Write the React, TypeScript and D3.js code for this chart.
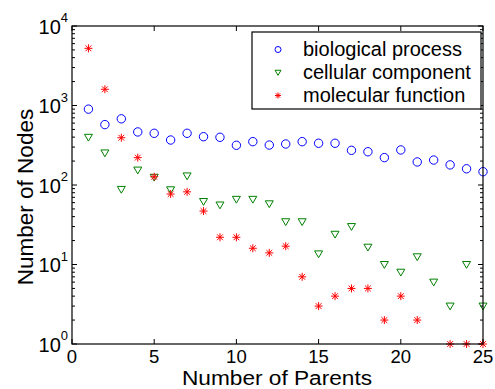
import React from "react";
import * as d3 from "d3";

const parents = d3.range(1, 26);
const biological = [900, 575, 680, 465, 447, 368, 447, 405, 398, 316, 351, 318, 328, 351, 335, 335, 273, 262, 221, 276, 195, 206, 179, 160, 147];
const cellular = [398, 253, 88, 154, 125, 87, 130, 62, 56, 66, 66, 58, 34.5, 34.5, 13.6, 24, 30, 16.5, 10, 8, 12.5, 6, 3, 10, 3];
const molecular: (number | null)[] = [5240, 1600, 393, 221, 127, 77, 82, 47, 22, 22, 16, 14, 17, 7, 3, 4, 5, 5, 2, 4, 2, null, 1, 1, 1];
const xTicks = [0, 5, 10, 15, 20, 25];
const yTicks = [0, 1, 2, 3, 4];
const legendLabels = ["biological process", "cellular component", "molecular function"];

const W = 495, H = 389;
const left = 72, right = 483, top = 26, bottom = 344;
const font = "'Liberation Sans', Arial, Helvetica, sans-serif";

function Star({ x, y, s, color }: { x: number; y: number; s: number; color: string }) {
  const d = s * 0.72;
  return (
    <g stroke={color} strokeWidth={1}>
      <line x1={x - s} y1={y} x2={x + s} y2={y} />
      <line x1={x} y1={y - s} x2={x} y2={y + s} />
      <line x1={x - d} y1={y - d} x2={x + d} y2={y + d} />
      <line x1={x - d} y1={y + d} x2={x + d} y2={y - d} />
    </g>
  );
}

function Tri({ x, y, s, color }: { x: number; y: number; s: number; color: string }) {
  const p = `${x - s},${y - s * 0.75} ${x + s},${y - s * 0.75} ${x},${y + s * 0.95}`;
  return <polygon points={p} fill="none" stroke={color} strokeWidth={1} />;
}

export default function App() {
  const x = d3.scaleLinear().domain([0, 25]).range([left, right]);
  const y = d3.scaleLog().domain([1, 10000]).range([bottom, top]);
  const minor: number[] = [];
  for (let e = 0; e < 4; e++) for (let k = 2; k <= 9; k++) minor.push(k * Math.pow(10, e));

  return (
    <svg width={W} height={H} style={{ position: "absolute", left: 0, top: 0, background: "#fff" }} fontFamily={font}>
      <rect x={0} y={0} width={W} height={H} fill="#fff" />
      {/* ticks */}
      <g stroke="#000" strokeWidth={1}>
        {xTicks.map((t) => (
          <g key={"xt" + t}>
            <line x1={x(t)} x2={x(t)} y1={bottom} y2={bottom - 5} />
            <line x1={x(t)} x2={x(t)} y1={top} y2={top + 5} />
          </g>
        ))}
        {yTicks.map((t) => (
          <g key={"yt" + t}>
            <line x1={left} x2={left + 5} y1={y(Math.pow(10, t))} y2={y(Math.pow(10, t))} />
            <line x1={right} x2={right - 5} y1={y(Math.pow(10, t))} y2={y(Math.pow(10, t))} />
          </g>
        ))}
        {minor.map((m) => (
          <g key={"m" + m}>
            <line x1={left} x2={left + 3} y1={y(m)} y2={y(m)} />
            <line x1={right} x2={right - 3} y1={y(m)} y2={y(m)} />
          </g>
        ))}
      </g>
      {/* data */}
      <g>
        {biological.map((v, i) => (
          <circle key={"b" + i} cx={x(parents[i])} cy={y(v)} r={4.2} fill="none" stroke="#0000ff" strokeWidth={1} />
        ))}
        {cellular.map((v, i) => (
          <Tri key={"c" + i} x={x(parents[i])} y={y(v)} s={4} color="#008000" />
        ))}
        {molecular.map((v, i) =>
          v == null ? null : <Star key={"m" + i} x={x(parents[i])} y={y(v)} s={4} color="#ff0000" />
        )}
      </g>
      {/* frame */}
      <rect x={left} y={top} width={right - left} height={bottom - top} fill="none" stroke="#000" strokeWidth={1.2} />
      {/* x tick labels */}
      {xTicks.map((t) => (
        <text key={"xl" + t} x={x(t)} y={bottom + 19.2} fontSize={18.5} textAnchor="middle" fill="#000">
          {t}
        </text>
      ))}
      {/* y tick labels */}
      {yTicks.map((t) => (
        <text key={"yl" + t} x={left - 4} y={y(Math.pow(10, t)) + 7.8} fontSize={20} textAnchor="end" fill="#000">
          10<tspan dy={-11.6} fontSize={13}>{t}</tspan>
        </text>
      ))}
      <text x={277} y={384.8} fontSize={19.5} textAnchor="middle" textLength={190} lengthAdjust="spacingAndGlyphs" fill="#000">Number of Parents</text>
      <text transform={`translate(33,197) rotate(-90)`} fontSize={22.5} textAnchor="middle" fill="#000">Number of Nodes</text>
      {/* legend */}
      <rect x={252} y={32} width={229} height={77} fill="#fff" stroke="#000" strokeWidth={1.2} />
      {legendLabels.map((l, i) => {
        const ly = 49.5 + i * 23;
        const c = ["#0000ff", "#008000", "#ff0000"][i];
        return (
          <g key={l}>
            {i === 0 && <circle cx={278} cy={ly} r={3} fill="none" stroke={c} />}
            {i === 1 && <Tri x={278} y={ly} s={3} color={c} />}
            {i === 2 && <Star x={278} y={ly} s={3} color={c} />}
            <text x={303} y={ly + 6.3} fontSize={20} fill="#000">{l}</text>
          </g>
        );
      })}
    </svg>
  );
}
